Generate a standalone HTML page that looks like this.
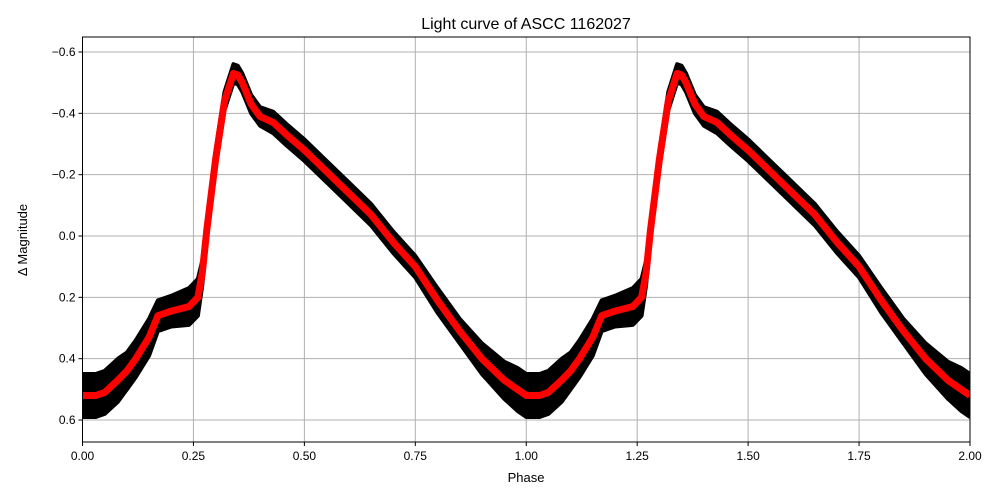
<!DOCTYPE html>
<html><head><meta charset="utf-8"><style>
body{margin:0;background:#fff;}
svg{display:block;font-family:"Liberation Sans","DejaVu Sans",sans-serif;}
</style></head><body>
<svg id="chart" width="1000" height="500">
<rect width="1000" height="500" fill="#fff"/>
<text x="526" y="29" text-anchor="middle" font-size="16">Light curve of ASCC 1162027</text>
<text x="526" y="482" text-anchor="middle" font-size="13">Phase</text>
<text transform="translate(27,240) rotate(-90)" text-anchor="middle" font-size="13">Δ Magnitude</text>
<g id="grid"></g><g id="band"></g><g id="curve"></g><g id="axes"></g>
</svg>
<script>
const phases=[0,0.03,0.05,0.08,0.10,0.12,0.15,0.17,0.20,0.24,0.26,0.27,0.28,0.30,0.32,0.34,0.35,0.36,0.38,0.40,0.43,0.46,0.50,0.55,0.60,0.65,0.70,0.75,0.80,0.85,0.90,0.95,0.98,1.0];
const mags=[0.52,0.52,0.51,0.47,0.44,0.40,0.33,0.26,0.245,0.23,0.2,0.12,-0.02,-0.25,-0.44,-0.53,-0.525,-0.50,-0.43,-0.39,-0.37,-0.33,-0.28,-0.21,-0.14,-0.07,0.02,0.10,0.21,0.31,0.40,0.47,0.50,0.52];
const spread=[0.07,0.07,0.07,0.07,0.06,0.06,0.06,0.05,0.05,0.06,0.06,0.04,0.03,0.03,0.03,0.03,0.03,0.03,0.03,0.03,0.035,0.035,0.035,0.035,0.035,0.035,0.035,0.035,0.04,0.04,0.05,0.06,0.07,0.07];
const xTicks=["0.00","0.25","0.50","0.75","1.00","1.25","1.50","1.75","2.00"];
const yTicks=["−0.6","−0.4","−0.2","0.0","0.2","0.4","0.6"];
const yTickVals=[-0.6,-0.4,-0.2,0,0.2,0.4,0.6];
const L=82.5,R=970,T=37,B=442;
const X=p=>L+(p/2)*(R-L);
const Y=m=>236+m*306.7;
const NS="http://www.w3.org/2000/svg";
function mk(t,a,parent){const e=document.createElementNS(NS,t);for(const k in a)e.setAttribute(k,a[k]);parent.appendChild(e);return e;}
const grid=document.getElementById('grid'),axes=document.getElementById('axes');
xTicks.forEach((t,i)=>{const x=X(parseFloat(t));
 const g=mk('line',{x1:x,x2:x,y1:T,y2:B,stroke:'#b0b0b0','stroke-width':1},grid);
 
 
 mk('line',{x1:x,x2:x,y1:B,y2:B+4,stroke:'#000'},axes);
 const tx=mk('text',{x:x,y:B+18,'text-anchor':'middle','font-size':12},axes);tx.textContent=t;
 
 
});
yTickVals.forEach((v,i)=>{const y=Y(v);
 const g=mk('line',{x1:L,x2:R,y1:y,y2:y,stroke:'#b0b0b0','stroke-width':1},grid);
 
 
 mk('line',{x1:L-4,x2:L,y1:y,y2:y,stroke:'#000'},axes);
 const tx=mk('text',{x:L-7,y:y+4,'text-anchor':'end','font-size':12},axes);tx.textContent=yTicks[i];
 
 
});
const fr=mk('rect',{x:L,y:T,width:R-L,height:B-T,fill:'none',stroke:'#000','stroke-width':1},axes);


let d='',up=[],dn=[];
[0,1].forEach(c=>phases.forEach((p,i)=>{
 d+=(d?'L':'M')+X(p+c).toFixed(1)+','+Y(mags[i]).toFixed(1);
 up.push(X(p+c).toFixed(1)+','+Y(mags[i]-spread[i]).toFixed(1));
 dn.push(X(p+c).toFixed(1)+','+Y(mags[i]+spread[i]).toFixed(1));
}));
const cp=document.createElementNS(NS,'clipPath');cp.id='clip';document.getElementById('chart').appendChild(cp);
mk('rect',{x:L,y:T,width:R-L,height:B-T},cp);
const band=mk('polygon',{points:up.concat(dn.reverse()).join(' '),fill:'#000',stroke:'#000','stroke-width':4,'stroke-linejoin':'round','clip-path':'url(#clip)'},document.getElementById('band'));


const line=mk('path',{d:d,fill:'none',stroke:'#ff0000','stroke-width':7,'stroke-linejoin':'round','clip-path':'url(#clip)'},document.getElementById('curve'));


</script>
</body></html>
